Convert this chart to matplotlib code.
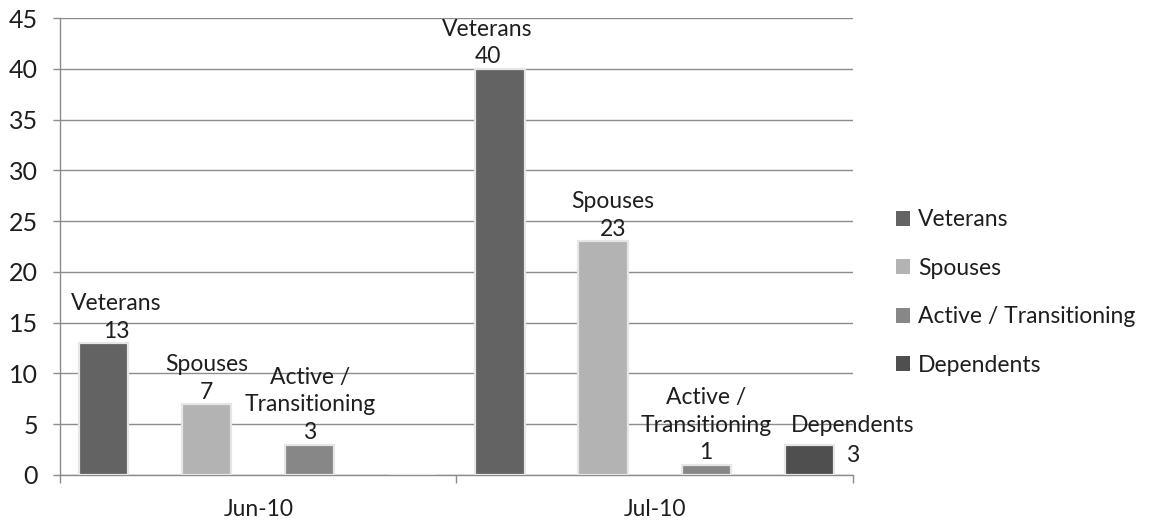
import numpy as np
import matplotlib
matplotlib.use("Agg")
import matplotlib.pyplot as plt

plt.rcParams['font.family'] = ['Lato', 'DejaVu Sans']

months = ["Jun-10", "Jul-10"]
series = ["Veterans", "Spouses", "Active / Transitioning", "Dependents"]
bar_names = ["Veterans", "Spouses", "Active /\nTransitioning", "Dependents"]
veterans = [13, 40]
spouses = [7, 23]
active = [3, 1]
dependents = [0, 3]
colors = ["#636363", "#b3b3b3", "#878787", "#4f4f4f"]

values = [veterans, spouses, active, dependents]

# small horizontal nudges of the data labels (points), as in the original
nudge = {(0, 0): 9, (0, 1): -9, (1, 1): 7}

fig = plt.figure(figsize=(11.57, 5.31), dpi=100)
ax = fig.add_axes([0.052, 0.1055, 0.685, 0.8605])

x = np.arange(len(months))
step = 0.26
width = 0.124
txt = "#1e1e1e"
fs = 16.5

for i, (vals, col) in enumerate(zip(values, colors)):
    pos = x + (i - 1.5) * step
    bars = ax.bar(pos, vals, width, color=col, edgecolor="#e6e6e6", linewidth=1.6,
                  label=series[i], zorder=3)
    for j, b in enumerate(bars):
        v = vals[j]
        if v == 0:
            continue
        cx = b.get_x() + b.get_width() / 2
        if i == 3:
            # label pushed to the right of the last bar
            ax.annotate(bar_names[i], (cx, v), xytext=(31, 6), textcoords="offset points",
                        ha="center", va="bottom", fontsize=fs, color=txt, zorder=4)
            ax.annotate(str(v), (cx, v), xytext=(31, -8), textcoords="offset points",
                        ha="center", va="center", fontsize=fs, color=txt, zorder=4)
        else:
            ax.annotate(bar_names[i] + "\n" + str(v), (cx, v),
                        xytext=(nudge.get((i, j), 0), 1),
                        textcoords="offset points", ha="center", va="bottom",
                        fontsize=fs, color=txt, linespacing=1.4, zorder=4)

ax.set_xlim(-0.5, 1.5)
ax.set_ylim(0, 45)
ax.set_yticks(np.arange(0, 46, 5))
ax.yaxis.grid(True, color="#8c8c8c", linewidth=1.0, zorder=0)
ax.set_axisbelow(True)

ax.set_xticks(x)
ax.set_xticklabels(months)
ax.set_xticks([-0.5, 0.5, 1.5], minor=True)
ax.tick_params(axis="x", which="major", length=0, pad=17, labelsize=fs, labelcolor=txt)
ax.tick_params(axis="x", which="minor", length=6, color="#8c8c8c", width=1.0)
ax.tick_params(axis="y", length=5, color="#8c8c8c", width=1.0, pad=11,
               labelsize=18, labelcolor=txt)

for s in ["top", "right"]:
    ax.spines[s].set_visible(False)
for s in ["left", "bottom"]:
    ax.spines[s].set_color("#8c8c8c")
    ax.spines[s].set_linewidth(1.0)

leg = fig.legend(loc="center left", bbox_to_anchor=(0.757, 0.449), frameon=False,
                 fontsize=fs, handlelength=0.6, handleheight=0.6, handletextpad=0.35,
                 labelspacing=1.2)
for t in leg.get_texts():
    t.set_color(txt)
for h in leg.legend_handles:
    h.set_edgecolor("none")

fig.savefig("out.png", dpi=100, facecolor="white")
